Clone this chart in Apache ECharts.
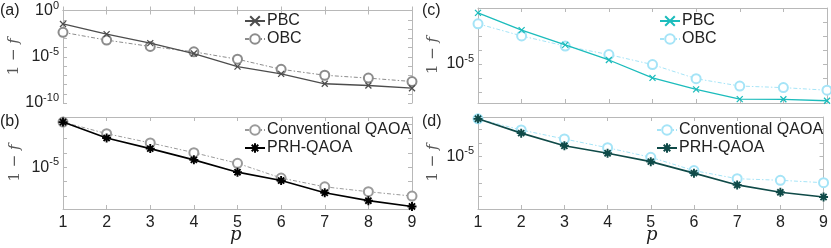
<!DOCTYPE html>
<html><head><meta charset="utf-8">
<script src="https://cdn.jsdelivr.net/npm/echarts@6/dist/echarts.min.js"></script>
<style>html,body{margin:0;padding:0;background:#fff}#c{width:831px;height:248px}</style>
</head><body><div id="c"></div>
<script>
// depth p
const pValues = [1, 2, 3, 4, 5, 6, 7, 8, 9];
// (a) infidelity 1 - f
const aPBC = [3.5e-2, 2.8e-3, 3.0e-4, 2.2e-5, 8.5e-7, 1.4e-7, 1.2e-8, 7.8e-9, 4.0e-9];
const aOBC = [4.4e-3, 6.3e-4, 1.3e-4, 3.4e-5, 5.4e-6, 4.4e-7, 1.0e-7, 4.9e-8, 2.1e-8];
// (b)
const bConv = [1.4e-2, 2.2e-3, 5.0e-4, 1.05e-4, 1.9e-5, 1.8e-6, 4.4e-7, 2.0e-7, 1.0e-7];
const bPRH  = [1.4e-2, 1.1e-3, 2.0e-4, 3.3e-5, 4.6e-6, 1.2e-6, 1.7e-7, 4.8e-8, 1.9e-8];
// (c)
const cPBC = [4.5e-2, 2.6e-3, 2.3e-4, 1.9e-5, 1.0e-6, 1.5e-7, 3.0e-8, 2.9e-8, 2.3e-8];
const cOBC = [7.4e-3, 1.0e-3, 1.9e-4, 4.6e-5, 8.9e-6, 8.7e-7, 2.6e-7, 2.0e-7, 1.3e-7];
// (d)
const dConv = [6.5e-3, 9.5e-4, 2.0e-4, 4.4e-5, 8.5e-6, 8.5e-7, 2.1e-7, 1.6e-7, 1.05e-7];
const dPRH  = [6.5e-3, 5.5e-4, 6.2e-5, 1.7e-5, 4.0e-6, 5.5e-7, 7.2e-8, 2.0e-8, 8.9e-9];
// y tick labels (decade exponents)
const aYLabels = [0, -5, -10];
const bYLabels = [-5];
const cYLabels = [-5];
const dYLabels = [-5];

const chart = echarts.init(document.getElementById('c'), null, {renderer: 'canvas'});
const FONT = 'Liberation Sans';
const FRAME = '#b8b8b8';
const CROSS = 'path://M0,0L10,10M10,0L0,10';
const STAR = 'path://M5,0L5,10M0,5L10,5M1.6,1.6L8.4,8.4M8.4,1.6L1.6,8.4';

const grids = [
  {left: 63, top: 8, width: 349, height: 95},
  {left: 63, top: 117, width: 349, height: 92},
  {left: 478, top: 8, width: 349, height: 95},
  {left: 478, top: 117, width: 349, height: 92}
];
const yRanges = [[-10, 0], [-7.9, -1.5], [-7.8, -1.0], [-8.95, -2.05]];
const yLabelSets = [aYLabels, bYLabels, cYLabels, dYLabels];
const showX = [false, true, false, true];

const xAxes = [], yAxes = [];
function intsIn(lo, hi) { const r = []; for (let k = Math.ceil(lo); k <= Math.floor(hi); k++) r.push(k); return r; }
grids.forEach((g, i) => {
  const common = {type: 'value', gridIndex: i, min: 1, max: 9, interval: 1,
    axisLine: {lineStyle: {color: FRAME, width: 1}},
    axisTick: {inside: true, length: 4, lineStyle: {color: FRAME}},
    splitLine: {show: false}};
  xAxes.push(Object.assign({}, common, {position: 'bottom',
    axisLabel: {show: showX[i], color: '#222', fontFamily: FONT, fontSize: 16, margin: 6}}));
  xAxes.push(Object.assign({}, common, {position: 'top', axisLabel: {show: false}}));
  const [lo, hi] = yRanges[i];
  const ticks = intsIn(lo, hi);
  const yc = {type: 'value', gridIndex: i, min: lo, max: hi,
    axisLine: {show: true, lineStyle: {color: FRAME, width: 1}},
    splitLine: {show: false}};
  yAxes.push(Object.assign({}, yc, {position: 'left',
    name: '{n|1 − }{f|f}', nameLocation: 'middle', nameGap: i < 2 ? 40 : 37, nameRotate: 90,
    nameTextStyle: {rich: {n: {fontFamily: 'DejaVu Serif', fontSize: 15, color: '#555'},
                           f: {fontFamily: 'DejaVu Serif', fontStyle: 'italic', fontSize: 15, color: '#555'}}},
    axisTick: {inside: true, length: 4, lineStyle: {color: FRAME}, customValues: ticks},
    axisLabel: {customValues: yLabelSets[i], margin: 4,
      formatter: v => '{b|10}{s|' + v + '}',
      rich: {b: {fontFamily: FONT, fontSize: 16, color: '#222'},
             s: {fontFamily: FONT, fontSize: 11, color: '#222', padding: [0, 0, 10, 0]}}}}));
  yAxes.push(Object.assign({}, yc, {position: 'right',
    axisTick: {inside: true, length: 4, lineStyle: {color: FRAME}, customValues: ticks},
    axisLabel: {show: false}}));
});

function pts(vals) { return pValues.map((p, k) => [p, Math.log10(vals[k])]); }
function line(name, gi, vals, color, symbol, size, dashed, width, bw) {
  return {type: 'line', name: name, xAxisIndex: gi * 2, yAxisIndex: gi * 2, data: pts(vals),
    symbol: symbol, symbolSize: size, showSymbol: true,
    lineStyle: {color: color, width: width, type: dashed ? [4, 2, 1.5, 2] : 'solid'},
    itemStyle: {color: color, borderColor: color, borderWidth: bw},
    emphasis: {disabled: true}, animation: false, z: dashed ? 2 : 3};
}
const series = [
  line('OBC#a', 0, aOBC, '#8c8c8c', 'emptyCircle', 9, true, 1, 1.3),
  line('PBC#a', 0, aPBC, '#4d4d4d', CROSS, 6, false, 1.3, 1.3),
  line('Conventional QAOA#b', 1, bConv, '#9a9a9a', 'emptyCircle', 9, true, 1, 1.3),
  line('PRH-QAOA#b', 1, bPRH, '#000000', STAR, 9, false, 1.6, 1.9),
  line('OBC#c', 2, cOBC, '#a5e4f7', 'emptyCircle', 9, true, 1, 1.3),
  line('PBC#c', 2, cPBC, '#1cbcbc', CROSS, 6, false, 1.3, 1.3),
  line('Conventional QAOA#d', 3, dConv, '#a5e4f7', 'emptyCircle', 9, true, 1, 1.3),
  line('PRH-QAOA#d', 3, dPRH, '#0f4a48', STAR, 9, false, 1.6, 1.9)
];
function legend(names, left, top) {
  return {data: names, left: left, top: top, orient: 'vertical', itemGap: 2, itemWidth: 20, itemHeight: 12,
    selectedMode: false, padding: 0,
    formatter: n => n.split('#')[0],
    textStyle: {fontFamily: FONT, fontSize: 16, color: '#222', padding: [0, 0, 0, -3]}};
}
function label(t, x, y) {
  return {type: 'text', left: x, top: y, style: {text: t, font: '16px "Liberation Sans"', fill: '#222'}};
}
chart.setOption({
  animation: false,
  grid: grids,
  xAxis: xAxes,
  yAxis: yAxes,
  legend: [
    legend(['PBC#a', 'OBC#a'], 244, 13),
    legend(['Conventional QAOA#b', 'PRH-QAOA#b'], 244, 122),
    legend(['PBC#c', 'OBC#c'], 659, 13),
    legend(['Conventional QAOA#d', 'PRH-QAOA#d'], 656, 122)
  ],
  series: series,
  graphic: [
    label('(a)', 0, 3), label('(b)', 0, 114), label('(c)', 422, 3), label('(d)', 422, 114),
    {type: 'text', left: 230, top: 226, style: {text: 'p', font: 'italic 18px "DejaVu Serif"', fill: '#222'}},
    {type: 'text', left: 646, top: 226, style: {text: 'p', font: 'italic 18px "DejaVu Serif"', fill: '#222'}}
  ]
});
</script></body></html>
